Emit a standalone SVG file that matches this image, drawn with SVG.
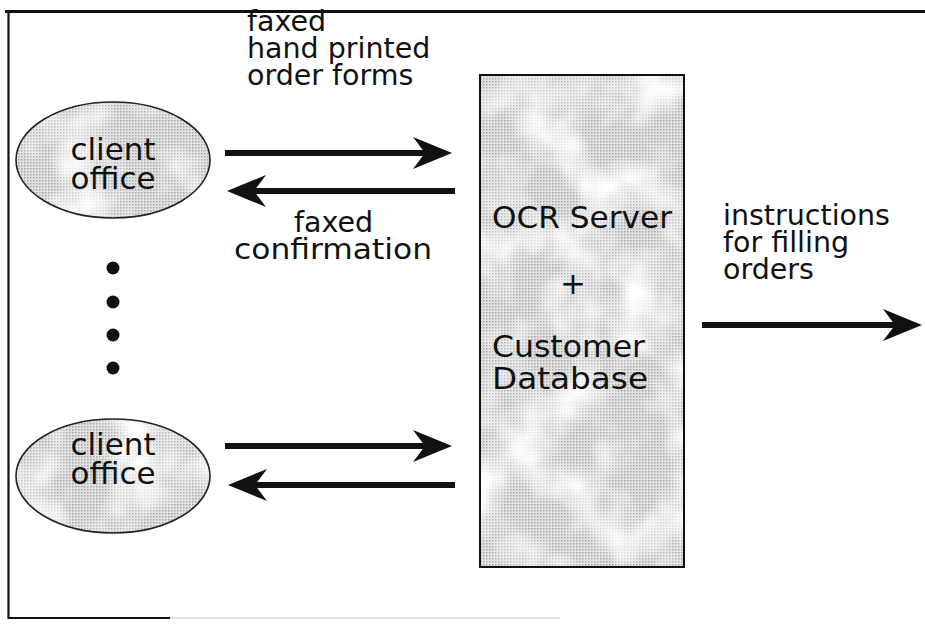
<svg xmlns="http://www.w3.org/2000/svg" width="925" height="628" viewBox="0 0 925 628">
  <style>
    .lbl { font-family: "DejaVu Sans", "Liberation Sans", sans-serif; fill: #111; }
    .flow { font-size: 28.5px; }
    .node { font-size: 31px; }
    .frame { stroke: #111; fill: none; }
    .shaft { stroke: #111; stroke-width: 6; fill: none; }
    .outline { stroke: #222; stroke-width: 1.6; fill: none; }
  </style>
  <defs>
    <!-- halftone screen used for the shaded shapes -->
    <pattern id="screen" width="3" height="3" patternUnits="userSpaceOnUse">
      <rect width="3" height="3" fill="#e2e2e2"/>
      <rect width="1.5" height="1.5" fill="#a4a4a4"/>
    </pattern>
    <!-- uneven light patches over the screen -->
    <filter id="mottle" x="0" y="0" width="1" height="1">
      <feTurbulence type="fractalNoise" baseFrequency="0.018" numOctaves="3" seed="7"/>
      <feColorMatrix type="matrix" values="0 0 0 0 1  0 0 0 0 1  0 0 0 0 1  0 0 0 -2.4 1.45"/>
      <feComposite in2="SourceGraphic" operator="in"/>
    </filter>
    <marker id="head" markerUnits="userSpaceOnUse" orient="auto" refX="-20" refY="0" overflow="visible">
      <path d="M0,0 L-39,-16 Q-30,-4 -27,0 Q-30,4 -39,16 Z" fill="#111"/>
    </marker>
  </defs>

  <rect width="925" height="628" fill="#fff"/>

  <!-- page frame -->
  <g id="frame">
    <line class="frame" x1="5" y1="11.5" x2="925" y2="11.5" stroke-width="2.8"/>
    <line class="frame" x1="8.5" y1="11" x2="8.5" y2="619" stroke-width="2.2"/>
    <line class="frame" x1="8" y1="618" x2="170" y2="618" stroke-width="1.8"/>
    <line x1="170" y1="618" x2="560" y2="618" stroke="#c8c8c8" stroke-width="1.2"/>
  </g>

  <!-- server block -->
  <g id="server">
    <rect x="480" y="75" width="204" height="492" fill="url(#screen)"/>
    <rect x="480" y="75" width="204" height="492" fill="#fff" filter="url(#mottle)"/>
    <rect x="480" y="75" width="204" height="492" fill="none" stroke="#111" stroke-width="2"/>
    <text class="lbl node" x="492" y="228" textLength="180" lengthAdjust="spacingAndGlyphs">OCR Server</text>
    <text class="lbl node" x="573" y="294" text-anchor="middle">+</text>
    <text class="lbl node" x="492" y="357" textLength="153" lengthAdjust="spacingAndGlyphs">Customer</text>
    <text class="lbl node" x="492" y="389" textLength="156" lengthAdjust="spacingAndGlyphs">Database</text>
  </g>

  <!-- client offices -->
  <g id="client-top">
    <ellipse cx="113" cy="160" rx="97" ry="58" fill="url(#screen)"/>
    <ellipse cx="113" cy="160" rx="97" ry="58" fill="#fff" filter="url(#mottle)"/>
    <ellipse class="outline" cx="113" cy="160" rx="97" ry="58"/>
    <text class="lbl node" x="113" y="160" text-anchor="middle">client</text>
    <text class="lbl node" x="113" y="189" text-anchor="middle">office</text>
  </g>

  <g id="client-bottom">
    <ellipse cx="113" cy="476" rx="97" ry="57" fill="url(#screen)"/>
    <ellipse cx="113" cy="476" rx="97" ry="57" fill="#fff" filter="url(#mottle)"/>
    <ellipse class="outline" cx="113" cy="476" rx="97" ry="57"/>
    <text class="lbl node" x="113" y="455" text-anchor="middle">client</text>
    <text class="lbl node" x="113" y="484" text-anchor="middle">office</text>
  </g>

  <!-- ellipsis between offices -->
  <g id="more-offices" fill="#111">
    <circle cx="113" cy="268" r="6.5"/>
    <circle cx="113" cy="302" r="6.5"/>
    <circle cx="113" cy="335" r="6.5"/>
    <circle cx="113" cy="368" r="6.5"/>
  </g>

  <!-- flow labels -->
  <g id="labels">
    <text class="lbl flow">
      <tspan x="247" y="31">faxed</tspan>
      <tspan x="247" y="58">hand printed</tspan>
      <tspan x="247" y="85">order forms</tspan>
    </text>
    <text class="lbl flow" text-anchor="middle">
      <tspan x="338" y="232">faxed</tspan>
      <tspan x="333" y="259" textLength="198" lengthAdjust="spacingAndGlyphs">confirmation</tspan>
    </text>
    <text class="lbl flow">
      <tspan x="723" y="225">instructions</tspan>
      <tspan x="723" y="252">for filling</tspan>
      <tspan x="723" y="279">orders</tspan>
    </text>
  </g>

  <!-- connectors -->
  <g id="connectors">
    <line class="shaft" x1="225" y1="153" x2="432" y2="153" marker-end="url(#head)"/>
    <line class="shaft" x1="455" y1="191" x2="247" y2="191" marker-end="url(#head)"/>
    <line class="shaft" x1="225" y1="446" x2="432" y2="446" marker-end="url(#head)"/>
    <line class="shaft" x1="455" y1="485" x2="248" y2="485" marker-end="url(#head)"/>
    <line class="shaft" x1="702" y1="325" x2="902" y2="325" marker-end="url(#head)"/>
  </g>
</svg>
